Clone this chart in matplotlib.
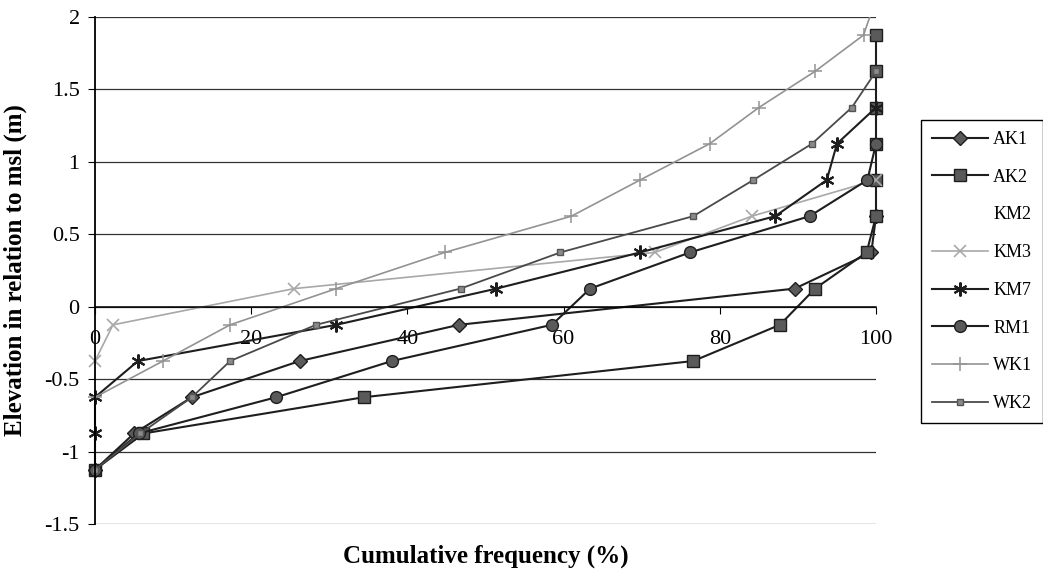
import numpy as np
import matplotlib
matplotlib.use("Agg")
import matplotlib.pyplot as plt
from matplotlib.lines import Line2D
from matplotlib.patches import Rectangle

plt.rcParams['font.family'] = ['Liberation Serif', 'DejaVu Serif']
plt.rcParams['axes.unicode_minus'] = False

# elevation classes (m, relative to msl) and cumulative frequency (%) per site
ak1_y = [-1.125, -0.875, -0.625, -0.375, -0.125, 0.125, 0.375, 0.625]
ak1_x = [0, 5.0, 12.4, 26.2, 46.6, 89.6, 99.4, 100]

ak2_y = [-1.125, -0.875, -0.625, -0.375, -0.125, 0.125, 0.375, 0.625, 0.875, 1.125, 1.375, 1.625, 1.875]
ak2_x = [0, 6.2, 34.4, 76.6, 87.7, 92.2, 98.8, 100, 100, 100, 100, 100, 100]

km3_y = [-0.375, -0.125, 0.125, 0.375, 0.625, 0.875]
km3_x = [0, 2.3, 25.5, 71.7, 84.1, 100]

km7_y = [-1.125, -0.875, -0.625, -0.375, -0.125, 0.125, 0.375, 0.625, 0.875, 1.125, 1.375]
km7_x = [0, 0, 0, 5.5, 30.9, 51.4, 69.8, 87.1, 93.7, 95.0, 100]

rm1_y = [-1.125, -0.875, -0.625, -0.375, -0.125, 0.125, 0.375, 0.625, 0.875, 1.125]
rm1_x = [0, 5.6, 23.2, 38.0, 58.5, 63.4, 76.2, 91.5, 98.9, 100]

wk1_y = [-0.625, -0.375, -0.125, 0.125, 0.375, 0.625, 0.875, 1.125, 1.375, 1.625, 1.875, 2.125]
wk1_x = [0, 8.7, 17.3, 30.9, 44.8, 61.0, 69.8, 78.7, 85.0, 92.2, 98.4, 100]

wk2_y = [-1.125, -0.875, -0.625, -0.375, -0.125, 0.125, 0.375, 0.625, 0.875, 1.125, 1.375, 1.625]
wk2_x = [0, 5.8, 12.4, 17.3, 28.3, 46.8, 59.6, 76.6, 84.3, 91.8, 96.9, 100]

x_ticks = [0, 20, 40, 60, 80, 100]
y_ticks = [-1.5, -1, -0.5, 0, 0.5, 1, 1.5, 2]
y_ticklabels = ['-1.5', '-1', '-0.5', '0', '0.5', '1', '1.5', '2']

fig = plt.figure(figsize=(10.43, 5.75), dpi=100)
ax = fig.add_axes([95 / 1043, 1 - 524 / 575, 781 / 1043, 507 / 575])

dark = '#1e1e1e'
fill = '#5a5a5a'
lines = []
lines += ax.plot(ak1_x, ak1_y, color=dark, lw=1.5, marker='D', ms=7.5, mfc=fill, mec=dark, label='AK1')
lines += ax.plot(ak2_x, ak2_y, color=dark, lw=1.5, marker='s', ms=8.5, mfc=fill, mec=dark, label='AK2')
lines += ax.plot([], [], color='white', lw=1.5, label='KM2')
lines += ax.plot(km3_x, km3_y, color='#a8a8a8', lw=1.2, marker='x', ms=9, mew=1.2, label='KM3')
lines += ax.plot(km7_x, km7_y, color=dark, lw=1.5, marker=(6, 2, 0), ms=10, mew=1.5, label='KM7')
lines += ax.plot(rm1_x, rm1_y, color=dark, lw=1.5, marker='o', ms=8.5, mfc=fill, mec=dark, label='RM1')
lines += ax.plot(wk1_x, wk1_y, color='#939393', lw=1.2, marker='+', ms=10, mew=1.1, label='WK1')
lines += ax.plot(wk2_x, wk2_y, color='#4a4a4a', lw=1.3, marker='s', ms=4.5, mfc='#8a8a8a', mec='#555555', label='WK2')

clip = Rectangle((-5, -1.5), 110, 3.5, transform=ax.transData)
for ln in lines:
    ln.set_clip_path(clip)

ax.set_xlim(0, 100)
ax.set_ylim(-1.5, 2)
ax.set_xticks(x_ticks)
ax.set_yticks(y_ticks)
ax.set_yticklabels(y_ticklabels)
ax.yaxis.grid(True, color='#333333', lw=0.9)
ax.set_axisbelow(True)

ax.spines['top'].set_visible(False)
ax.spines['right'].set_visible(False)
ax.spines['bottom'].set_position(('data', 0))
ax.spines['left'].set_linewidth(1.3)
ax.spines['bottom'].set_linewidth(1.1)
ax.tick_params(axis='x', direction='out', length=5, pad=12, labelsize=16)
ax.tick_params(axis='y', direction='out', length=5, pad=6, labelsize=16)

fig.text(15 / 1043, 1 - 270 / 575, 'Elevation in relation to msl (m)', rotation=90,
         ha='center', va='center', fontsize=18, fontweight='bold')
fig.text(486 / 1043, 1 - 556 / 575, 'Cumulative frequency (%)',
         ha='center', va='center', fontsize=18, fontweight='bold')

leg = fig.legend(handles=lines, loc='upper left', bbox_to_anchor=(921 / 1043, 1 - 120 / 575),
                 frameon=True, fancybox=False, framealpha=1, edgecolor='black',
                 fontsize=13, handlelength=3.1, handletextpad=0.3, labelspacing=1.15,
                 borderpad=0.6, borderaxespad=0)
leg.get_frame().set_linewidth(1.0)

fig.savefig('out.png', dpi=100)
